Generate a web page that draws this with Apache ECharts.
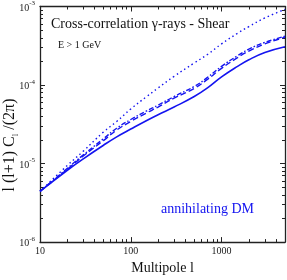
<!DOCTYPE html>
<html>
<head>
<meta charset="utf-8">
<script src="https://cdn.jsdelivr.net/npm/echarts@6/dist/echarts.min.js"></script>
<style>
html,body{margin:0;padding:0;background:#fff;}
#c{width:287px;height:280px;}
</style>
</head>
<body>
<div id="c"></div>
<script>
// Multipole values
var ell = [10, 20, 30, 50, 70, 100, 150, 200, 300, 500, 700, 1000, 1500, 2000, 3000, 5000];
// l(l+1)C_l/(2pi) curves
var solid   = [4.43e-6, 8.22e-6, 1.15e-5, 1.71e-5, 2.19e-5, 2.75e-5, 3.54e-5, 4.19e-5, 5.25e-5, 7.14e-5, 9.19e-5, 1.27e-4, 1.73e-4, 2.10e-4, 2.60e-4, 3.08e-4];
var dashed  = [4.43e-6, 8.45e-6, 1.25e-5, 1.96e-5, 2.67e-5, 3.44e-5, 4.43e-5, 5.25e-5, 6.80e-5, 9.06e-5, 1.18e-4, 1.63e-4, 2.23e-4, 2.71e-4, 3.34e-4, 4.07e-4];
var dashdot = [4.43e-6, 8.69e-6, 1.29e-5, 2.07e-5, 2.82e-5, 3.64e-5, 4.69e-5, 5.55e-5, 7.14e-5, 9.59e-5, 1.25e-4, 1.73e-4, 2.36e-4, 2.87e-4, 3.49e-4, 4.19e-4];
var dotted  = [4.43e-6, 9.46e-6, 1.44e-5, 2.52e-5, 3.44e-5, 4.96e-5, 7.14e-5, 9.18e-5, 1.29e-4, 1.91e-4, 2.45e-4, 3.34e-4, 4.56e-4, 5.55e-4, 7.14e-4, 9.19e-4];
// Tick values
var xMajor = [10, 100, 1000];
var xMinor = [20, 30, 40, 50, 60, 70, 80, 90, 200, 300, 400, 500, 600, 700, 800, 900, 2000, 3000, 4000];
var yMajor = [1e-6, 1e-5, 1e-4, 1e-3];
var yMinor = [];
[1e-6, 1e-5, 1e-4].forEach(function (d) { for (var k = 2; k <= 9; k++) yMinor.push(k * d); });

var FONT = '"Liberation Serif", "DejaVu Serif", serif';
var BLUE = '#1414f0';
var AX = '#222';

function pair(v) { return v.map(function (y, i) { return [ell[i], y]; }); }

function xAx(pos, ticks, len, showLine, showLabel) {
  return {
    type: 'log', logBase: 10, min: 10, max: 5000, position: pos,
    axisLine: { show: showLine, lineStyle: { color: AX, width: 1.3 } },
    axisTick: { show: true, inside: true, length: len, customValues: ticks, lineStyle: { color: AX, width: 1 } },
    axisLabel: showLabel ? {
      show: true, customValues: ticks, margin: 4, fontFamily: FONT, fontSize: 10, color: '#222',
      formatter: function (v) { return String(Math.round(v)); }
    } : { show: false },
    splitLine: { show: false }, minorTick: { show: false }
  };
}
function yAx(pos, ticks, len, showLine, showLabel) {
  return {
    type: 'log', logBase: 10, min: 1e-6, max: 1e-3, position: pos,
    axisLine: { show: showLine, lineStyle: { color: AX, width: 1.3 } },
    axisTick: { show: true, inside: true, length: len, customValues: ticks, lineStyle: { color: AX, width: 1 } },
    axisLabel: showLabel ? {
      show: true, customValues: ticks, margin: 5, fontFamily: FONT, color: '#222',
      formatter: function (v) { return '{b|10}{s|' + Math.round(Math.log10(v)) + '}'; },
      rich: {
        b: { fontFamily: FONT, fontSize: 10, color: '#222', lineHeight: 13, verticalAlign: 'bottom' },
        s: { fontFamily: FONT, fontSize: 7, color: '#222', lineHeight: 13, verticalAlign: 'top' }
      }
    } : { show: false },
    splitLine: { show: false }, minorTick: { show: false }
  };
}

var xs = [
  xAx('bottom', xMajor, 5, true, true),
  xAx('bottom', xMinor, 3, false, false),
  xAx('top', xMajor, 5, true, false),
  xAx('top', xMinor, 3, false, false)
];
xs[0].name = 'Multipole l';
xs[0].nameLocation = 'middle';
xs[0].nameGap = 17;
xs[0].nameTextStyle = { fontFamily: FONT, fontSize: 14, color: '#111' };

var ys = [
  yAx('left', yMajor, 5, true, true),
  yAx('left', yMinor, 3, false, false),
  yAx('right', yMajor, 5, true, false),
  yAx('right', yMinor, 3, false, false)
];

function line(data, type, width) {
  return {
    type: 'line', data: pair(data), xAxisIndex: 0, yAxisIndex: 0,
    showSymbol: false, smooth: 0.45, silent: true,
    lineStyle: { color: BLUE, width: width, type: type }
  };
}

var chart = echarts.init(document.getElementById('c'), null, { renderer: 'canvas' });
chart.setOption({
  animation: false,
  backgroundColor: '#fff',
  grid: { left: 40, right: 2, top: 6, bottom: 28, containLabel: false },
  xAxis: xs,
  yAxis: ys,
  title: [
    { text: 'Cross-correlation γ-rays - Shear', left: 46, top: 12, textStyle: { fontFamily: FONT, fontSize: 14, fontWeight: 'normal', color: '#111' } },
    { text: 'E > 1 GeV', left: 53, top: 35, textStyle: { fontFamily: FONT, fontSize: 10, fontWeight: 'normal', color: '#111' } },
    { text: 'annihilating DM', left: 156, top: 197, textStyle: { fontFamily: FONT, fontSize: 14, fontWeight: 'normal', color: BLUE } }
  ],
  graphic: [{
    type: 'text', x: 10, y: 145, rotation: Math.PI / 2, silent: true,
    style: {
      text: 'l (l+1) C{sub|l} /(2π)', fontFamily: FONT, fontSize: 16, fill: '#111',
      align: 'center', verticalAlign: 'middle',
      rich: {
        base: { fontFamily: FONT, fontSize: 16, fill: '#111' },
        sub: { fontFamily: FONT, fontSize: 9, fill: '#111', verticalAlign: 'bottom', lineHeight: 20 }
      }
    }
  }],
  series: [
    line(solid, 'solid', 1.6),
    line(dashed, [6, 3], 1.4),
    line(dashdot, [5, 2, 1.5, 2], 1.4),
    line(dotted, [1.5, 3], 1.4)
  ]
});
</script>
</body>
</html>
